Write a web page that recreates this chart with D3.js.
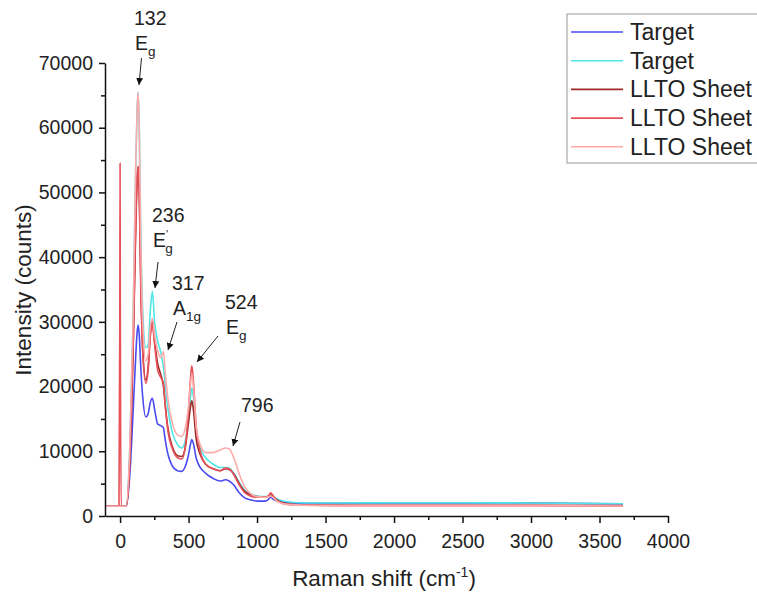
<!DOCTYPE html>
<html>
<head>
<meta charset="utf-8">
<script src="https://cdn.jsdelivr.net/npm/d3@7"></script>
<style>
  body { margin: 0; background: #fff; }
  text { font-family: Arial, "Liberation Sans", sans-serif; fill: #222; }
</style>
</head>
<body>
<svg id="chart" width="757" height="592"></svg>
<script>
// Raman shift sample points (cm-1)
var shift = [-110, -8, -2, 0, 2, 8, 45, 70, 95, 115, 125, 132, 140, 150, 165, 188, 205, 220, 236, 252,
    275, 295, 308, 317, 328, 350, 380, 420, 450, 475, 500, 515, 524, 535, 555, 585, 625, 680, 730, 770,
    796, 830, 870, 910, 950, 1000, 1060, 1090, 1100, 1115, 1150, 1220, 1350, 1600, 2000, 2500, 3000, 3670];

var target1 = [1500, 1500, 1500, 1500, 1500, 1500, 1500, 6000, 16000, 25000, 28500, 29500, 28000, 23500, 18500, 15300, 15800, 17500, 18200, 16500,
    14200, 14000, 13800, 13600, 12000, 9500, 7800, 7000, 6900, 7600, 9500, 11200, 11800, 11200, 9000, 7500, 6600, 5800, 5400, 5600,
    5400, 4800, 3600, 2800, 2500, 2300, 2300, 2700, 3000, 2600, 2300, 2100, 1950, 1950, 2000, 2000, 2000, 1900];

var target2 = [1500, 1500, 1500, 1500, 1500, 1500, 1500, 10000, 30000, 55000, 63000, 65500, 60000, 45000, 32000, 26000, 26500, 31500, 34700, 30000,
    27000, 25500, 24000, 23000, 20500, 16500, 13000, 11000, 10500, 11500, 15000, 18500, 19800, 18500, 13500, 10500, 9000, 8000, 7500, 7500,
    7400, 6600, 5200, 4000, 3500, 3100, 3000, 3100, 3200, 3000, 2600, 2200, 2000, 2000, 2050, 2050, 2000, 1900];

var llto1 = [1500, 1500, 1500, 1500, 1500, 1500, 1500, 8000, 25000, 45000, 52000, 54000, 50000, 38000, 26000, 21000, 23000, 28000, 30000, 27000,
    23500, 22000, 21000, 20000, 17500, 13500, 10800, 9300, 9200, 10500, 14500, 17000, 17800, 16500, 12000, 9500, 8000, 7300, 7000, 7300,
    7200, 6500, 5000, 3800, 3300, 3000, 2900, 3200, 3500, 3100, 2400, 1900, 1700, 1650, 1650, 1650, 1650, 1600];

var llto2 = [1500, 1500, 30000, 54500, 30000, 1500, 1500, 8000, 26000, 46000, 52500, 54000, 50000, 37000, 25500, 20500, 22500, 27500, 29500, 26500,
    22500, 21500, 21000, 20500, 17500, 13000, 10500, 9000, 8800, 10500, 16500, 21500, 23200, 21000, 14000, 10000, 8000, 7300, 7000, 7400,
    7300, 6400, 4800, 3600, 3100, 2900, 2900, 3300, 3600, 3200, 2300, 1800, 1650, 1600, 1600, 1600, 1600, 1550];

var llto3 = [1500, 1500, 1500, 1500, 1500, 1500, 1500, 10000, 30000, 55000, 63000, 65500, 60000, 44000, 30000, 24000, 25000, 29000, 30500, 28000,
    25500, 24500, 25000, 25400, 22500, 18000, 14500, 12500, 12300, 13500, 17000, 20500, 22000, 20000, 14000, 11000, 9800, 9800, 10200, 10500,
    10400, 9000, 6500, 4500, 3500, 3000, 2900, 3000, 3100, 2900, 2200, 1800, 1650, 1600, 1600, 1600, 1600, 1550];

var seriesNames = ["Target", "Target", "LLTO Sheet", "LLTO Sheet", "LLTO Sheet"];
var seriesColors = ["#4b4bf2", "#4fe6e6", "#9e2a2a", "#e8505a", "#ffaaaa"];
var seriesValues = [target1, target2, llto1, llto2, llto3];

var xTicks = [0, 500, 1000, 1500, 2000, 2500, 3000, 3500, 4000];
var yTicks = [0, 10000, 20000, 30000, 40000, 50000, 60000, 70000];

// peak labels: position, mode symbol, subscript
var peakShift = [132, 236, 317, 524, 796];
var peakMode = ["E", "E", "A", "E", ""];
var peakSub = ["g", "g", "1g", "g", ""];

document.addEventListener('DOMContentLoaded', function () {
    drawChart();
});

function drawChart() {
    var svg = d3.select('#chart');

    var x = d3.scaleLinear().domain([-110, 4000]).range([105, 668]);
    var y = d3.scaleLinear().domain([0, 70000]).range([516, 63]);

    // spectra
    var line = d3.line()
        .x(function (d) { return x(d[0]); })
        .y(function (d) { return y(d[1]); })
        .curve(d3.curveMonotoneX);

    for (var i = 0; i < seriesValues.length; i++) {
        var pts = shift.map(function (s, j) { return [s, seriesValues[i][j]]; });
        svg.append('path')
            .datum(pts)
            .attr('d', line)
            .attr('fill', 'none')
            .attr('stroke', seriesColors[i])
            .attr('stroke-width', 1.6);
    }

    // x axis
    var xMinor = d3.range(0, 4001, 250).filter(function (v) { return v % 500 != 0; });
    svg.append('g')
        .attr('transform', 'translate(0,516)')
        .call(d3.axisBottom(x).tickValues(xMinor).tickSize(4).tickSizeOuter(0).tickFormat(''))
        .call(function (g) { g.select('.domain').remove(); })
        .selectAll('line').attr('stroke', '#111').attr('stroke-width', 1.5);
    var gx = svg.append('g')
        .attr('transform', 'translate(0,516)')
        .call(d3.axisBottom(x).tickValues(xTicks).tickSize(7).tickSizeOuter(0).tickPadding(11).tickFormat(d3.format('d')));
    gx.select('.domain').attr('stroke', '#111').attr('stroke-width', 1.5);
    gx.selectAll('.tick line').attr('stroke', '#111').attr('stroke-width', 1.5);
    gx.selectAll('.tick text').attr('font-size', 19.5).attr('fill', '#222')
        .style('font-family', 'Arial, "Liberation Sans", sans-serif');

    // y axis
    var yMinor = d3.range(5000, 70000, 10000);
    svg.append('g')
        .attr('transform', 'translate(105,0)')
        .call(d3.axisLeft(y).tickValues(yMinor).tickSize(4).tickSizeOuter(0).tickFormat(''))
        .call(function (g) { g.select('.domain').remove(); })
        .selectAll('line').attr('stroke', '#111').attr('stroke-width', 1.5);
    var gy = svg.append('g')
        .attr('transform', 'translate(105,0)')
        .call(d3.axisLeft(y).tickValues(yTicks).tickSize(6).tickSizeOuter(0).tickPadding(6).tickFormat(d3.format('d')));
    gy.select('.domain').attr('stroke', '#111').attr('stroke-width', 1.5);
    gy.selectAll('.tick line').attr('stroke', '#111').attr('stroke-width', 1.5);
    gy.selectAll('.tick text').attr('font-size', 19.5).attr('fill', '#222')
        .style('font-family', 'Arial, "Liberation Sans", sans-serif');

    // axis titles
    var xt = svg.append('text')
        .attr('x', 384).attr('y', 586)
        .attr('text-anchor', 'middle')
        .attr('font-size', 22.5);
    xt.append('tspan').text('Raman shift (cm');
    xt.append('tspan').attr('dy', -9).attr('font-size', 14).text('-1');
    xt.append('tspan').attr('dy', 9).text(')');

    svg.append('text')
        .attr('transform', 'translate(31,290) rotate(-90)')
        .attr('text-anchor', 'middle')
        .attr('font-size', 22.5)
        .text('Intensity (counts)');

    // peak annotations
    var labelPos = [[134, 25], [152, 222], [172, 290], [225, 309], [241, 412]];
    var arrows = [[141.5, 58, 139, 85], [158, 262, 155, 288], [177, 322, 168, 350], [218, 336, 197, 362], [240, 422, 233, 446]];

    svg.append('defs').append('marker')
        .attr('id', 'arrowhead')
        .attr('viewBox', '0 0 10 10')
        .attr('refX', 10).attr('refY', 5)
        .attr('markerWidth', 7).attr('markerHeight', 9)
        .attr('markerUnits', 'userSpaceOnUse')
        .attr('orient', 'auto')
        .append('path').attr('d', 'M0,0 L10,5 L0,10 Z').attr('fill', '#111');

    for (var k = 0; k < peakShift.length; k++) {
        svg.append('text')
            .attr('x', labelPos[k][0]).attr('y', labelPos[k][1])
            .attr('font-size', 19.5)
            .text(peakShift[k]);
        if (peakMode[k] != "") {
            var t = svg.append('text')
                .attr('x', labelPos[k][0] + 1).attr('y', labelPos[k][1] + 25)
                .attr('font-size', 19.5);
            t.append('tspan').text(peakMode[k]);
            if (k == 1) {
                t.append('tspan').attr('dy', -9).attr('font-size', 11).text("'");
                t.append('tspan').attr('dx', -3).attr('dy', 15).attr('font-size', 13.5).text(peakSub[k]);
            } else {
                t.append('tspan').attr('dy', 6).attr('font-size', 13.5).text(peakSub[k]);
            }
        }
        svg.append('line')
            .attr('x1', arrows[k][0]).attr('y1', arrows[k][1])
            .attr('x2', arrows[k][2]).attr('y2', arrows[k][3])
            .attr('stroke', '#222').attr('stroke-width', 1)
            .attr('marker-end', 'url(#arrowhead)');
    }

    // legend
    var leg = svg.append('g');
    leg.append('rect')
        .attr('x', 567).attr('y', 14)
        .attr('width', 220).attr('height', 149)
        .attr('fill', '#fff').attr('stroke', '#999').attr('stroke-width', 1);
    for (var n = 0; n < seriesNames.length; n++) {
        var ly = 32 + n * 28.7;
        leg.append('line')
            .attr('x1', 571).attr('x2', 623)
            .attr('y1', ly).attr('y2', ly)
            .attr('stroke', seriesColors[n]).attr('stroke-width', 1.6);
        leg.append('text')
            .attr('x', 630).attr('y', ly + 8)
            .attr('font-size', 23)
            .text(seriesNames[n]);
    }
}
</script>
</body>
</html>
